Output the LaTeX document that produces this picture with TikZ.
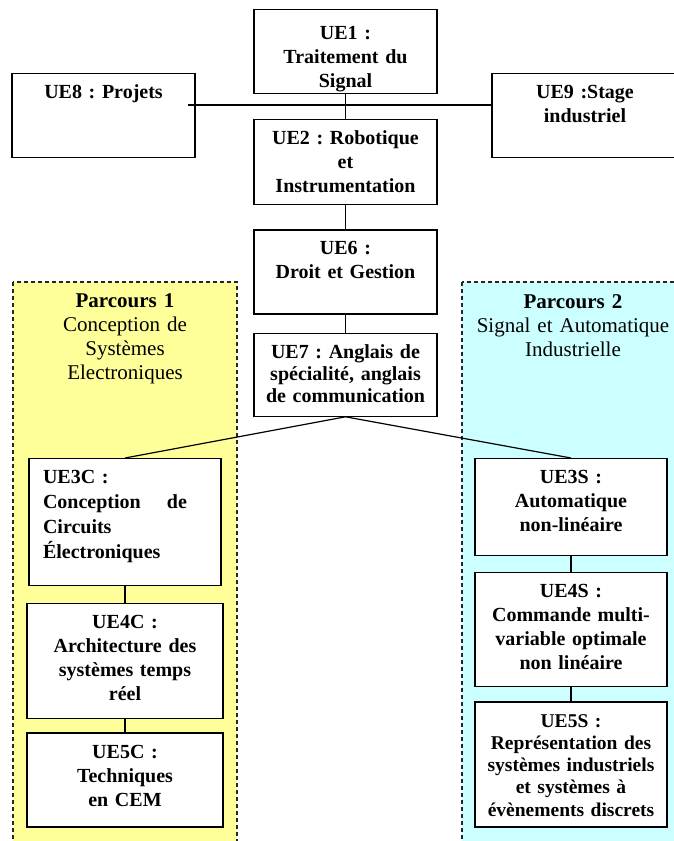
\documentclass[tikz,border=0pt]{standalone}
\usepackage{fontspec}
\setmainfont{Liberation Serif}
\usetikzlibrary{positioning}
\definecolor{parcoursA}{HTML}{FFFF99}
\definecolor{parcoursB}{HTML}{CCFFFF}
\frenchspacing

\begin{document}
\begin{tikzpicture}[x=1pt, y=-1pt, line width=1.2pt,
  ue/.style={draw, fill=white, anchor=north, inner sep=0pt, align=center,
    text height=25pt, font=\bfseries\fontsize{20}{24}\selectfont},
  zone/.style={draw=black!85, dash pattern=on 4pt off 3pt, line width=1.2pt},
  parcours/.style={anchor=base, align=center, text width=215pt,
    font=\fontsize{21}{24.3}\selectfont}]

\clip (0,0) rectangle (674,841);

% les deux parcours
\draw[zone, fill=parcoursA] (13,282) rectangle (237,860);
\draw[zone, fill=parcoursB] (462,282) rectangle (690,860);
\node[parcours] (p1) at (125,307) {\textbf{Parcours 1}\\Conception de\\Systèmes\\Electroniques};
\node[parcours] (p2) at (573,308) {\textbf{Parcours 2}\\Signal et Automatique\\Industrielle};

% tronc commun
\node[ue, text width=183pt, text height=30pt, text depth=54pt] (ue1) at (345.5,9) {UE1 :\\Traitement du\\Signal};
\node[ue, text width=183pt, text depth=60pt] (ue2) [below=25pt of ue1] {UE2 : Robotique\\et\\Instrumentation};
\node[ue, text width=183pt, text height=24pt, text depth=60pt] (ue6) [below=24pt of ue2] {UE6 :\\Droit et Gestion};
\node[ue, text width=183pt, text depth=58pt, font=\bfseries\fontsize{20}{22}\selectfont] (ue7) [below=18pt of ue6] {UE7 : Anglais de\\spécialité, anglais\\de communication};
\node[ue, text width=183pt, text depth=59pt] (ue8) at (103.5,73) {UE8 : Projets};
\node[ue, text width=186pt, text depth=59pt] (ue9) at (585,73) {UE9 :Stage\\industriel};

% parcours 1
\node[ue, text width=164pt, inner xsep=14pt, align=left, text depth=102pt,
  font=\bfseries\fontsize{20}{25}\selectfont] (ue3c) at (125,458) {UE3C :\\\makebox[144pt][l]{Conception\hfill de}\\Circuits\\Électroniques};
\node[ue, text width=196pt, text depth=90pt] (ue4c) [below=17pt of ue3c] {UE4C :\\Architecture des\\systèmes temps\\réel};
\node[ue, text width=196pt, text depth=69pt] (ue5c) [below=13pt of ue4c] {UE5C :\\Techniques\\en CEM};

% parcours 2
\node[ue, text width=192pt, text depth=72pt] (ue3s) at (571,458) {UE3S :\\Automatique\\non-linéaire};
\node[ue, text width=192pt, text depth=89pt] (ue4s) [below=16pt of ue3s] {UE4S :\\Commande multi-\\variable optimale\\non linéaire};
\node[ue, text width=192pt, text depth=100pt, font=\bfseries\fontsize{19.5}{22.3}\selectfont] (ue5s) [below=14pt of ue4s] {UE5S :\\Représentation des\\systèmes industriels\\et systèmes à\\évènements discrets};

\coordinate (bar) at (188,105);

\path[line width=1.2pt]
(ue1) edge (ue2)
(ue2) edge (ue6)
(ue6) edge (ue7)
(bar) edge (bar -| ue9.west)
(ue7.south) edge (ue3c.north)
(ue7.south) edge (ue3s.north)
(ue3c) edge (ue4c)
(ue4c) edge (ue5c)
(ue3s) edge (ue4s)
(ue4s) edge (ue5s)
;

\end{tikzpicture}
\end{document}
